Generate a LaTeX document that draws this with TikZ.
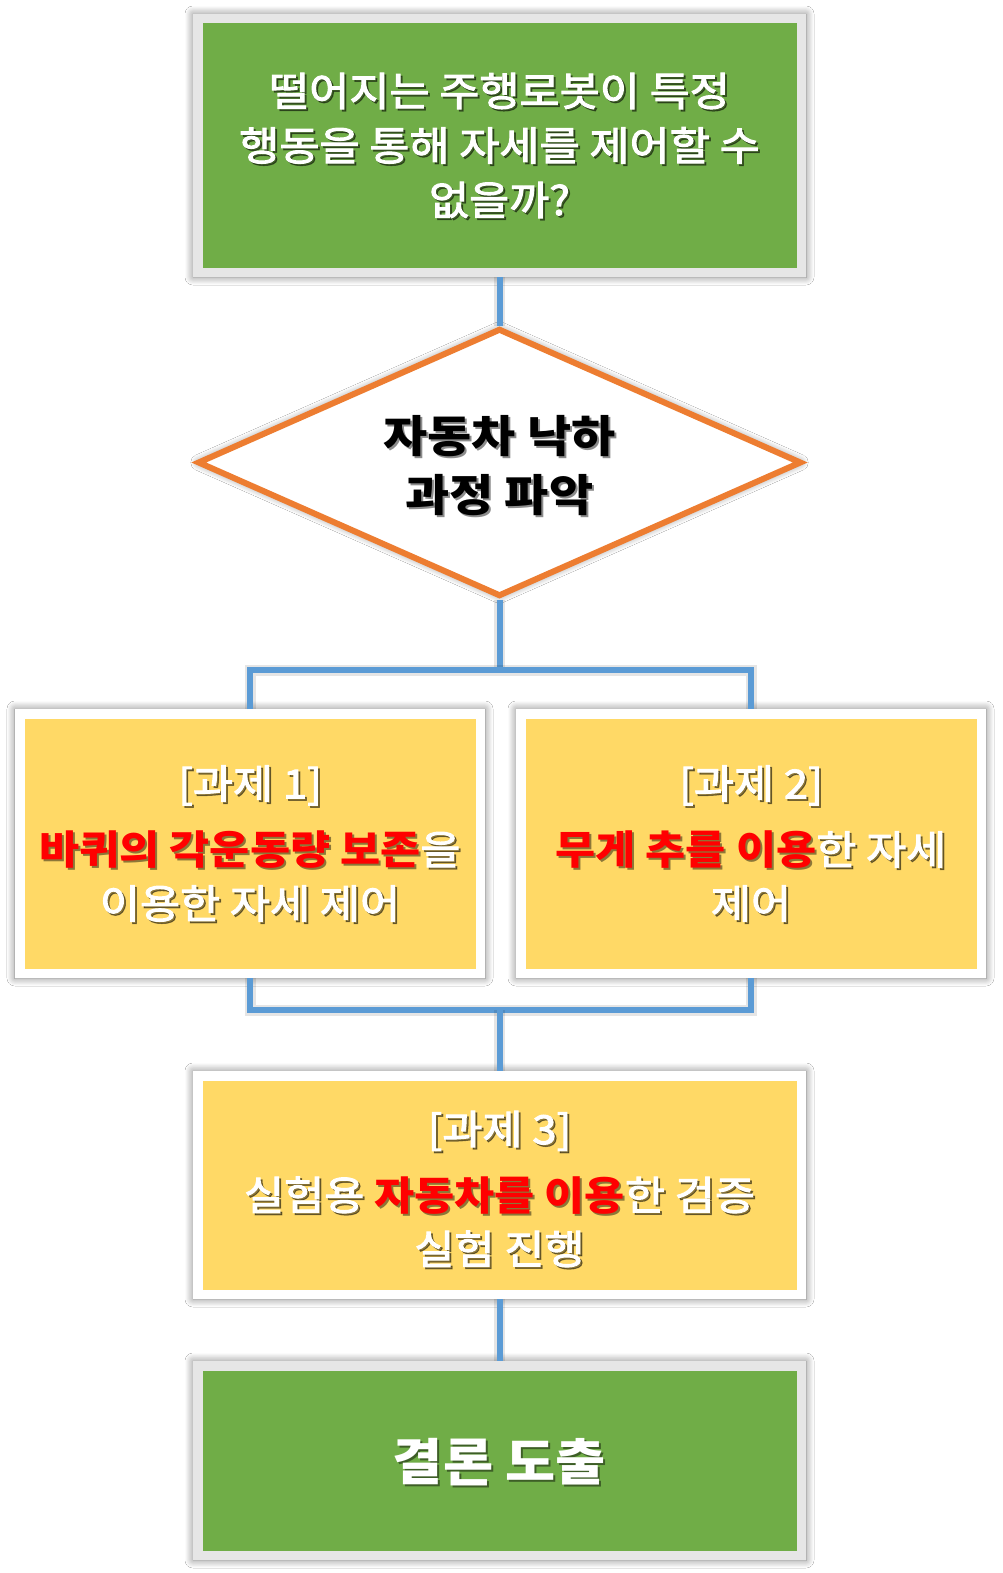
\documentclass[tikz,border=0pt]{standalone}
\usepackage{fontspec}
\usetikzlibrary{shapes.geometric,shadows.blur}
\newfontfamily\kr[FakeStretch=1.09]{Noto Sans CJK KR}
\newfontfamily\krr[FakeStretch=1.09,FakeBold=2.5]{Noto Sans CJK KR}
\definecolor{gframe}{HTML}{E6E6E6}
\definecolor{boxgreen}{HTML}{70AD47}
\definecolor{boxyellow}{HTML}{FFD966}
\definecolor{lineorange}{HTML}{ED7D31}
\definecolor{lineblue}{HTML}{5B9BD5}
\definecolor{hlred}{HTML}{FF0000}
\colorlet{hlcol}{hlred}
\newcommand\hl[1]{{\color{hlcol}\kr\bfseries #1}}
\tikzset{
  softshadow/.style={blur shadow={shadow xshift=0pt, shadow yshift=0pt, shadow blur radius=8pt, shadow blur steps=12, shadow opacity=50}},
  inner fill/.style={path picture={\fill[#1] ([xshift=9.5pt,yshift=9.5pt]path picture bounding box.south west) rectangle ([xshift=-9.5pt,yshift=-9.5pt]path picture bounding box.north east);}},
  gbox/.style={rectangle, inner sep=0pt, outer sep=0pt, fill=gframe, softshadow, inner fill=boxgreen},
  ybox/.style={rectangle, inner sep=0pt, outer sep=0pt, fill=white, softshadow, inner fill=boxyellow},
  conn/.style={draw=lineblue, line width=6pt, preaction={draw=black, draw opacity=0.1, line width=11pt}},
  txt/.style={align=center, inner sep=0pt},
  shadowtxt/.style={xshift=2pt, yshift=-2pt, text=black, text opacity=0.45, execute at begin node={\colorlet{hlcol}{black}}},
  ftop/.style={font=\krr\fontsize{40}{54.5}\selectfont, text=white},
  fyel/.style={font=\krr\fontsize{40}{54}\selectfont, text=white},
  fdia/.style={font=\kr\bfseries\fontsize{44}{59}\selectfont, text=black},
  fend/.style={font=\kr\bfseries\fontsize{50}{60}\selectfont, text=white},
}
\newcommand\shtext[4]{%
  \node[txt,#3,shadowtxt] (#1s) at (#2) {#4};
  \node[txt,#3] (#1) at (#2) {#4};}
\begin{document}
\begin{tikzpicture}[x=1pt,y=-1pt]
\fill[white] (0,0) rectangle (1003,1573);
\useasboundingbox (0,0) rectangle (1003,1573);
\coordinate (j1) at (499.5,670);
\coordinate (j2) at (499.5,1010);

% boxes
\node[gbox, minimum width=613pt, minimum height=263pt] (top) at (499.5,145.5) {};
\node[diamond, draw=lineorange, line width=6pt, fill=white, softshadow, minimum width=604pt, minimum height=268pt, inner sep=0pt, shape aspect=2.29] (dia) at (499.5,462.5) {};
\node[ybox, minimum width=470pt, minimum height=269pt] (t1) at (250,843.5) {};
\node[ybox, minimum width=470pt, minimum height=269pt] (t2) at (751,843.5) {};
\node[ybox, minimum width=613pt, minimum height=228pt] (t3) at (499.5,1185) {};
\node[gbox, minimum width=613pt, minimum height=199pt] (end) at (499.5,1460.5) {};

% connectors
\draw[conn] (top.south) -- (dia.north);
\draw[conn] (dia.south) -- (j1);
\draw[conn] (t1.north) |- (j1) -| (t2.north);
\draw[conn] (t1.south) |- (j2) -| (t2.south);
\draw[conn] (j2) -- (t3.north);
\draw[conn] (t3.south) -- (end.north);

% texts
\shtext{toptxt}{top.center}{ftop}{떨어지는 주행로봇이 특정\\행동을 통해 자세를 제어할 수\\없을까?}
\shtext{diatxt}{dia.center}{fdia, yshift=-3pt}{자동차 낙하\\과정 파악}
\shtext{t1txt}{t1.center}{fyel}{[과제 1]\\[12pt]\hl{바퀴의 각운동량 보존}을\\이용한 자세 제어}
\shtext{t2txt}{t2.center}{fyel}{[과제 2]\\[12pt]\hl{무게 추를 이용}한 자세\\제어}
\shtext{t3txt}{t3.center}{fyel, yshift=-4pt}{[과제 3]\\[12pt]실험용 \hl{자동차를 이용}한 검증\\실험 진행}
\shtext{endtxt}{end.center}{fend, yshift=-1.5pt}{결론 도출}
\end{tikzpicture}
\end{document}
